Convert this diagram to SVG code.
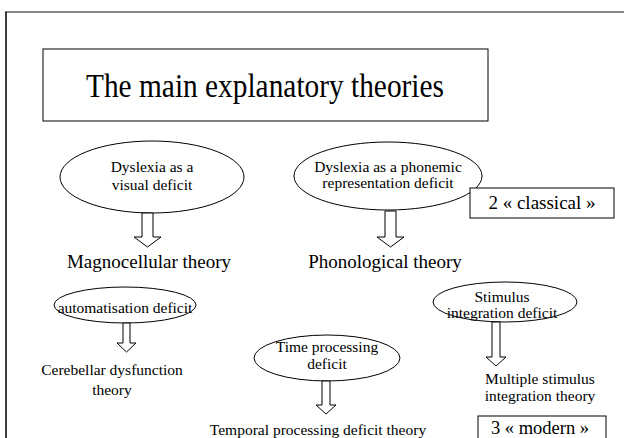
<svg xmlns="http://www.w3.org/2000/svg" width="624" height="438" viewBox="0 0 624 438">
<style>
text{font-family:"Liberation Serif","Times New Roman",serif;fill:#000;text-anchor:middle}
.n{fill:#fff;stroke:#000;stroke-width:1}
.arr{fill:#fff;stroke:#000;stroke-width:1}
.s15{font-size:15.5px}
.s19{font-size:19px}
</style>
<rect width="624" height="438" fill="#fff"/>
<line x1="5" y1="12" x2="624" y2="12" stroke="#888" stroke-width="2"/>
<line x1="6" y1="12" x2="6" y2="438" stroke="#000" stroke-width="1.5"/>
<g id="title">
<rect class="n" x="43" y="49" width="445" height="72"/>
<text x="265" y="97" font-size="34" textLength="358" lengthAdjust="spacingAndGlyphs">The main explanatory theories</text>
</g>
<g id="visual">
<ellipse class="n" cx="152" cy="177" rx="92" ry="36"/>
<text class="s15" x="152" y="172">Dyslexia as a</text>
<text class="s15" x="152" y="190">visual deficit</text>
</g>
<g id="magno"><text class="s19" x="149" y="268">Magnocellular theory</text></g>
<g id="phonemic">
<ellipse class="n" cx="388" cy="176" rx="94" ry="34"/>
<text class="s15" x="388" y="172">Dyslexia as a phonemic</text>
<text class="s15" x="388" y="188">representation deficit</text>
</g>
<g id="phono"><text class="s19" x="385" y="268">Phonological theory</text></g>
<g id="classical">
<rect class="n" x="470" y="188" width="144" height="30"/>
<text class="s19" x="542" y="209">2 « classical »</text>
</g>
<g id="autom">
<ellipse class="n" cx="125" cy="305" rx="71" ry="18"/>
<text class="s15" x="125" y="313">automatisation deficit</text>
</g>
<g id="cereb">
<text class="s15" x="112" y="375">Cerebellar dysfunction</text>
<text class="s15" x="112" y="395">theory</text>
</g>
<g id="time">
<ellipse class="n" cx="327" cy="358" rx="73" ry="23"/>
<text class="s15" x="327" y="352">Time processing</text>
<text class="s15" x="327" y="369">deficit</text>
</g>
<g id="temporal"><text class="s15" x="318" y="435">Temporal processing deficit theory</text></g>
<g id="stim">
<ellipse class="n" cx="505" cy="302" rx="72" ry="20"/>
<text class="s15" x="502" y="302">Stimulus</text>
<text class="s15" x="502" y="318">integration deficit</text>
</g>
<g id="multi">
<text class="s15" x="540" y="384">Multiple stimulus</text>
<text class="s15" x="540" y="401">integration theory</text>
</g>
<g id="modern">
<rect class="n" x="478" y="416" width="128" height="30"/>
<text x="540" y="434" font-size="18.5">3 « modern »</text>
</g>
<g id="connectors">
<path class="arr" d="M142 213 H153 V237 H161 L147.5 247 L134 237 H142 Z"/>
<path class="arr" d="M385 211 H396 V237 H404 L390.5 247 L377 237 H385 Z"/>
<path class="arr" d="M123 323 H130 V343 H136 L126.5 352 L117 343 H123 Z"/>
<path class="arr" d="M322 381 H330 V405 H336 L326 414 L316 405 H322 Z"/>
<path class="arr" d="M492 322 H500 V357 H506 L496 366 L486 357 H492 Z"/>
</g>
</svg>
